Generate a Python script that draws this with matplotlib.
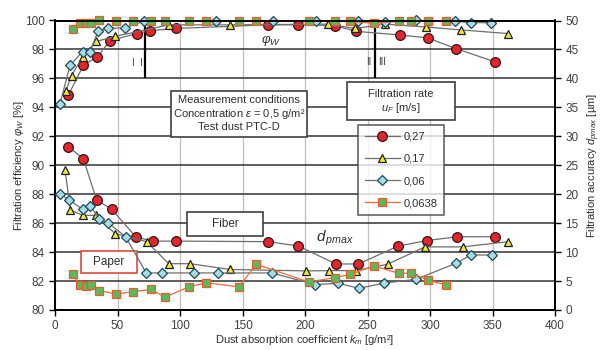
import numpy as np
import matplotlib
matplotlib.use("Agg")
import matplotlib.pyplot as plt
from matplotlib.patches import Rectangle

plt.rcParams['font.family'] = ['Liberation Sans', 'DejaVu Sans']
plt.rcParams['mathtext.fontset'] = 'custom'
plt.rcParams['mathtext.rm'] = 'Liberation Sans'
plt.rcParams['mathtext.it'] = 'Liberation Sans:italic'

# filtration rates (legend)
rates = ['0,27', '0,17', '0,06', '0,0638']

# efficiency curves (left axis, %)
eff_x_027 = [10.7, 22.7, 33.9, 44, 65.3, 76, 96.8, 170, 194.6, 224, 241, 276, 298, 321, 352]
eff_y_027 = [94.85, 96.9, 97.5, 98.6, 99.1, 99.3, 99.45, 99.7, 99.7, 99.65, 99.25, 99.0, 98.8, 98.05, 97.15]
eff_x_017 = [8.5, 13.3, 22, 32.8, 48, 91, 140, 218, 240, 264, 297, 325, 362]
eff_y_017 = [95.1, 96.2, 97.5, 98.55, 98.9, 99.7, 99.7, 99.75, 99.45, 99.75, 99.55, 99.35, 99.1]
eff_x_006 = [4, 12, 22, 28, 34.6, 42.7, 56, 71, 129, 174, 209, 242, 264, 289, 320, 333, 349]
eff_y_006 = [94.25, 96.9, 97.85, 97.85, 99.3, 99.45, 99.5, 99.95, 99.95, 99.95, 99.95, 99.95, 99.9, 100, 99.95, 99.85, 99.85]
eff_x_pap = [14, 20, 25, 28.5, 35.5, 49, 62, 77, 88, 107, 121, 147, 161, 203, 224, 236, 255, 275, 285, 298, 313]
eff_y_pap = [99.4, 99.8, 99.85, 99.85, 100, 99.95, 99.95, 99.95, 99.95, 99.95, 99.95, 99.95, 99.95,
             99.95, 99.95, 99.95, 99.8, 99.95, 99.95, 99.95, 99.95]

# accuracy curves (right axis, um)
acc_x_027 = [10.7, 22.7, 33.3, 45.3, 64.8, 78, 96.8, 170.7, 194.7, 224.8, 242.7, 274.7, 297.9, 321.9, 352]
acc_y_027 = [28.2, 26.1, 19.0, 17.4, 12.6, 11.9, 11.9, 11.8, 11.05, 7.95, 7.95, 11.05, 12.0, 12.65, 12.65]
acc_x_017 = [8, 12.3, 22, 32.5, 48, 73.3, 91, 108, 140, 200.8, 219, 240.8, 266, 296, 326, 362.7]
acc_y_017 = [24.2, 17.3, 16.35, 16.35, 13.2, 11.8, 8.0, 8.0, 7.0, 6.75, 6.8, 6.8, 7.9, 10.9, 10.9, 11.8]
acc_x_006 = [4, 11.5, 22, 28, 35.5, 42.7, 56.5, 73, 85.3, 111, 130.7, 173.3, 208, 226.7, 243.5, 263.3,
             288.8, 320.5, 332.8, 349.3]
acc_y_006 = [20.0, 19.0, 17.4, 18.0, 15.8, 15.0, 12.66, 6.4, 6.4, 6.4, 6.4, 6.4, 4.4, 4.6, 3.75, 4.65,
             5.3, 8.05, 9.5, 9.5]
acc_x_pap = eff_x_pap
acc_y_pap = [6.15, 4.3, 4.15, 4.3, 3.35, 2.75, 3.15, 3.55, 2.2, 4.0, 4.7, 4.0, 7.9, 4.85, 5.6, 6.15,
             7.6, 6.35, 6.35, 5.2, 4.3]

boundaries = [72, 256]

styles = [
    dict(color='#6e6e6e', marker='o', ms=7, mfc='#e3262e', mec='#3a1414'),
    dict(color='#6e6e6e', marker='^', ms=6.3, mfc='#f2e83a', mec='#202020'),
    dict(color='#6e6e6e', marker='D', ms=5, mfc='#a6dce8', mec='#1f4a58'),
    dict(color='#f26a3a', marker='s', ms=5.8, mfc='#5cb85c', mec='#f05a28'),
]
eff = [(eff_x_027, eff_y_027), (eff_x_017, eff_y_017), (eff_x_006, eff_y_006), (eff_x_pap, eff_y_pap)]
acc = [(acc_x_027, acc_y_027), (acc_x_017, acc_y_017), (acc_x_006, acc_y_006), (acc_x_pap, acc_y_pap)]

fig = plt.figure(figsize=(6.01, 3.5), dpi=100)
ax = fig.add_axes([55 / 601, 1 - 310 / 350, 500 / 601, 289.5 / 350])
ax2 = ax.twinx()

ax.set_xlim(0, 400)
ax.set_ylim(80, 100)
ax2.set_ylim(0, 50)
ax.set_xticks(np.arange(0, 401, 50))
ax.set_yticks(np.arange(80, 101, 2))
ax2.set_yticks(np.arange(0, 51, 5))
ax.set_axisbelow(True)
ax.grid(axis='y', color='#333333', lw=1.1)
ax.grid(axis='x', color='#c9bdb6', lw=0.9)

for a in (ax, ax2):
    for s in a.spines.values():
        s.set_color('black')
        s.set_linewidth(1.3)
    a.tick_params(labelsize=8.5, labelcolor='#404040', length=4, width=1, color='black')

handles = []
for (x, y), st in zip(eff, styles):
    ax.plot(x, y, lw=0.9, mew=0.9, clip_on=False, zorder=4, **st)
for (x, y), st, lab in zip(acc, styles, rates):
    h, = ax2.plot(x, y, lw=0.9, mew=0.9, clip_on=False, zorder=4, label=lab, **st)
    handles.append(h)

ax.vlines(boundaries, 96, 100, color='black', lw=1.6, zorder=3)
ax.text(65.6, 97.07, 'I  I', fontsize=7, color='#404040', ha='center', va='center')
ax.text(251, 97.13, 'II', fontsize=7, color='#404040', ha='center', va='center')
ax.text(261.5, 97.13, 'III', fontsize=7, color='#404040', ha='center', va='center')

ax.text(173, 98.55, r'$\varphi_W$', fontsize=9.5, color='#303030', ha='center', va='center')
ax.text(224, 84.97, r'$d_{\,pmax}$', fontsize=11, color='#303030', ha='center', va='center')

def box(x0, x1, y0, y1, ec='#404040'):
    ax.add_patch(Rectangle((x0, y0), x1 - x0, y1 - y0, fc='white', ec=ec, lw=1.2, zorder=3))

box(92.8, 201.6, 91.95, 95.13)
ax.text(147.2, 94.5, 'Measurement conditions', fontsize=8, color='#303030', ha='center', va='center', zorder=5)
ax.text(147.2, 93.55, 'Concentration $\\epsilon$ = 0,5 g/m²', fontsize=8, color='#303030', ha='center', va='center', zorder=5)
ax.text(147.2, 92.65, 'Test dust PTC-D', fontsize=8, color='#303030', ha='center', va='center', zorder=5)

box(233.6, 320, 93.13, 95.75)
ax.text(276.8, 94.93, 'Filtration rate', fontsize=8, color='#303030', ha='center', va='center', zorder=5)
ax.text(276.8, 93.95, r'$u_F$ [m/s]', fontsize=8, color='#303030', ha='center', va='center', zorder=5)

box(105.6, 166.4, 85.11, 86.77)
ax.text(136, 85.94, 'Fiber', fontsize=8.5, color='#303030', ha='center', va='center', zorder=5)
box(20.8, 65.6, 82.56, 84.08, ec='#e04a3a')
ax.text(43.2, 83.32, 'Paper', fontsize=8.5, color='#303030', ha='center', va='center', zorder=5)

leg = ax2.legend(handles=handles, loc='upper left', bbox_to_anchor=(358 / 601, 1 - 125 / 350),
                 bbox_transform=fig.transFigure, fontsize=8, frameon=True, fancybox=False,
                 handlelength=3.2, handletextpad=0.3, labelspacing=1.1, borderpad=0.6,
                 borderaxespad=0)
leg.get_frame().set_edgecolor('#404040')
leg.get_frame().set_linewidth(1.2)
for t in leg.get_texts():
    t.set_color('#303030')

ax.set_ylabel(r'Filtration efficiency $\varphi_W$ [%]', fontsize=8, color='#303030')
ax.yaxis.set_label_coords(-0.058, 0.5)
ax2.set_ylabel(r'Filtration accuracy $d_{pmax}$ [µm]', fontsize=8, color='#303030', rotation=90)
ax2.yaxis.set_label_coords(1.062, 0.5)
ax.set_xlabel(r'Dust absorption coefficient $k_m$ [g/m²]', fontsize=8, color='#303030')
ax.xaxis.set_label_coords(0.5, -0.078)

fig.savefig('out.png', dpi=100)
